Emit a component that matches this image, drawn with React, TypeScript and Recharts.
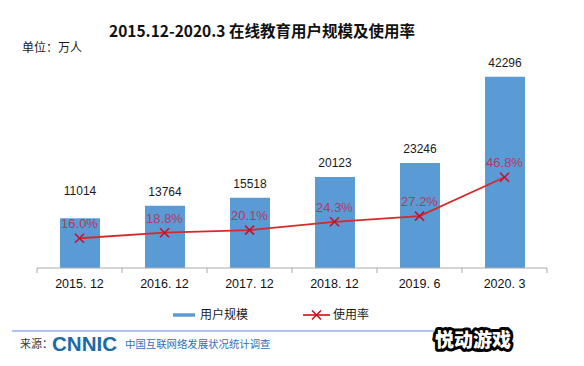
import { Bar, ComposedChart, LabelList, Line, XAxis, YAxis } from "recharts"

// 在线教育用户规模及使用率
const periods = ["2015. 12", "2016. 12", "2017. 12", "2018. 12", "2019. 6", "2020. 3"]
const users = [11014, 13764, 15518, 20123, 23246, 42296]
const rates = [16.0, 18.8, 20.1, 24.3, 27.2, 46.8]

const data = periods.map((p, i) => ({ period: p, users: users[i], rate: rates[i] }))

const W = 584
const H = 366
const AXIS_H = 30
const margin = { top: 42, right: 37, bottom: 98 - AXIS_H, left: 37 }
const band = (W - margin.left - margin.right) / periods.length

const CJK = '"Noto Sans CJK SC", sans-serif'
const LATIN = '"Liberation Sans", Arial, sans-serif'
const BLUE = "#5b9bd5"
const RED = "#d42a2a"
const RATE_TEXT = "#b03a64"

const Cross = (props: any) => {
  const { cx, cy } = props
  if (cx == null || cy == null) return null
  const s = 4.5
  return (
    <g stroke="#c8102e" strokeWidth={1.6}>
      <line x1={cx - s} y1={cy - s} x2={cx + s} y2={cy + s} />
      <line x1={cx - s} y1={cy + s} x2={cx + s} y2={cy - s} />
    </g>
  )
}

const PeriodTick = (props: any) => {
  const { x, y, payload, index } = props
  return (
    <g>
      <line x1={x - band / 2} y1={y} x2={x - band / 2} y2={y + 5} stroke="#aaa" />
      {index === periods.length - 1 && (
        <line x1={x + band / 2} y1={y} x2={x + band / 2} y2={y + 5} stroke="#aaa" />
      )}
      <text x={x} y={y + 16} dy="0.35em" textAnchor="middle" fontFamily={LATIN} fontSize={12.5} fill="#111">
        {payload.value}
      </text>
    </g>
  )
}

// first value label sits higher so it clears the 16.0% label
const UserLabel = (props: any) => {
  const { x, y, width, value, index } = props
  const lift = index === 0 ? 27 : 14
  return (
    <text x={x + width / 2} y={y - lift} dy="0.35em" textAnchor="middle" fontFamily={LATIN} fontSize={12} fill="#1a1a1a">
      {value}
    </text>
  )
}

export default function App() {
  return (
    <div style={{ position: "absolute", left: 0, top: 0, width: W, height: H, background: "#fff" }}>
      <div style={{ position: "absolute", left: 0, top: 0 }}>
        <ComposedChart width={W} height={H} data={data} margin={margin}>
          <XAxis
            dataKey="period"
            xAxisId="x"
            height={AXIS_H}
            interval={0}
            tickLine={false}
            tickSize={0}
            tickMargin={0}
            axisLine={{ stroke: "#aaa" }}
            tick={<PeriodTick />}
          />
          <YAxis yAxisId="users" hide domain={[0, 50000]} />
          <YAxis yAxisId="rate" hide orientation="right" domain={[1, 115]} />
          <Bar dataKey="users" xAxisId="x" yAxisId="users" fill={BLUE} barSize={40} isAnimationActive={false}>
            <LabelList dataKey="users" content={<UserLabel />} />
          </Bar>
          <Line
            dataKey="rate"
            xAxisId="x"
            yAxisId="rate"
            type="linear"
            stroke={RED}
            strokeWidth={1.8}
            dot={<Cross />}
            activeDot={false}
            isAnimationActive={false}
          >
            <LabelList
              dataKey="rate"
              position="top"
              offset={10}
              fill={RATE_TEXT}
              fontSize={13}
              fontFamily={LATIN}
              formatter={(v: any) => `${Number(v).toFixed(1)}%`}
            />
          </Line>
        </ComposedChart>
      </div>
      <svg width={W} height={H} style={{ position: "absolute", left: 0, top: 0, pointerEvents: "none" }}>
        <text x={262} y={32} dy="0.35em" textAnchor="middle" fontFamily={CJK} fontWeight="bold" fontSize={15.5} fill="#111">
          2015.12-2020.3 在线教育用户规模及使用率
        </text>
        <text x={22} y={48} dy="0.35em" fontFamily={CJK} fontSize={12} fill="#1a1a1a">
          单位：万人
        </text>
        {/* legend */}
        <line x1={173} y1={315} x2={195} y2={315} stroke={BLUE} strokeWidth={3.5} />
        <text x={200} y={315} dy="0.35em" fontFamily={CJK} fontSize={12} fill="#1a1a1a">
          用户规模
        </text>
        <line x1={303} y1={315} x2={330} y2={315} stroke={RED} strokeWidth={1.8} />
        <Cross cx={316.5} cy={315} />
        <text x={333} y={315} dy="0.35em" fontFamily={CJK} fontSize={12} fill="#1a1a1a">
          使用率
        </text>
        {/* source footer */}
        <line x1={12} y1={331} x2={450} y2={331} stroke="#8fb3e2" strokeWidth={1.5} />
        <text x={20} y={344} dy="0.35em" fontFamily={CJK} fontSize={11} fill="#3a3a3a">
          来源：
        </text>
        <text x={52} y={343} dy="0.36em" fontFamily={LATIN} fontWeight="900" fontSize={21} fill="#1c6aa8" textLength={65} lengthAdjust="spacingAndGlyphs">
          CNNIC
        </text>
        <text x={125} y={344} dy="0.35em" fontFamily={CJK} fontSize={10.4} fill="#2f6fb7">
          中国互联网络发展状况统计调查
        </text>
        <text
          x={473}
          y={340}
          dy="0.35em"
          textAnchor="middle"
          fontFamily={CJK}
          fontWeight="900"
          fontSize={19}
          fill="#fff"
          stroke="#000"
          strokeWidth={6}
          strokeLinejoin="round"
          paintOrder="stroke"
        >
          悦动游戏
        </text>
      </svg>
    </div>
  )
}
